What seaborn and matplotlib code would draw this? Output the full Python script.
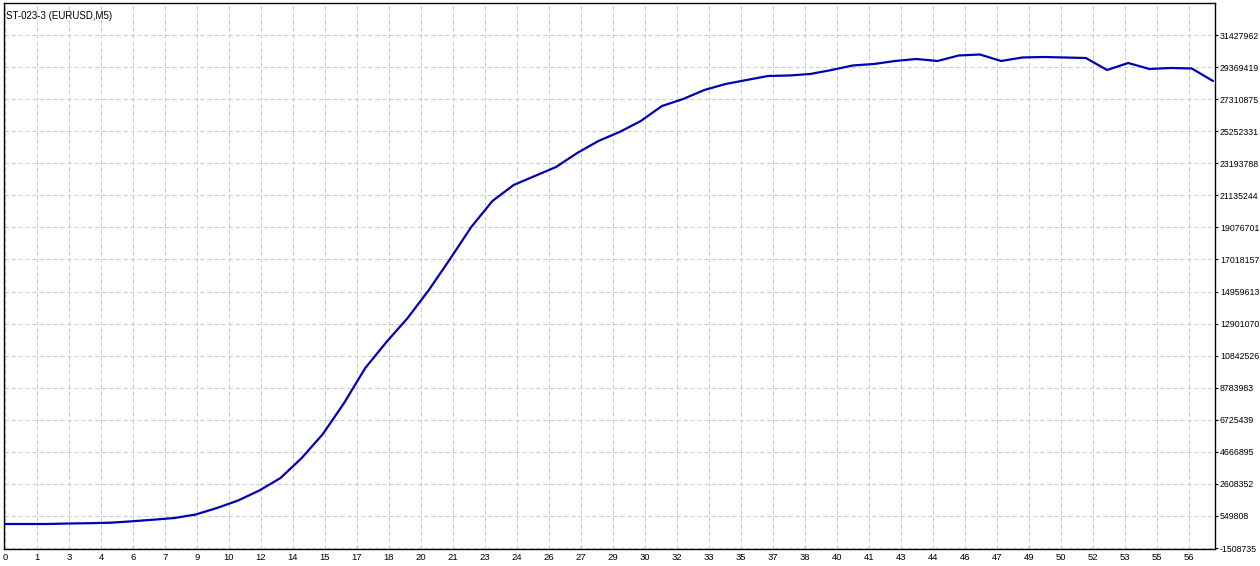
"""Equity curve of the ST-023-3 tester run, redrawn with seaborn."""
import numpy as np
import pandas as pd
import matplotlib
matplotlib.use("Agg")
import matplotlib.pyplot as plt
import seaborn as sns

TITLE = "ST-023-3 (EURUSD,M5)"

# equity after each trade
trade_no = list(range(58))
equity = [
    32305, 32305, 32305, 64000, 84000, 116000, 206000, 309000, 418000, 642000,
    1060000, 1541000, 2183000, 2986000, 4270000, 5811000, 7802000, 10049000,
    11719000, 13260000, 15057000, 17048000, 19103000, 20772000, 21799000,
    22377000, 22955000, 23854000, 24625000, 25203000, 25909000, 26872000,
    27322000, 27900000, 28285000, 28542000, 28798000, 28831000, 28927000,
    29184000, 29473000, 29569000, 29762000, 29890000, 29762000, 30115000,
    30179000, 29762000, 29986000, 30018000, 29986000, 29954000, 29184000,
    29633000, 29248000, 29312000, 29280000, 28477000,
]

x_tick_labels = [0, 1, 3, 4, 6, 7, 9, 10, 12, 14, 15, 17, 18, 20, 21, 23, 24,
                 26, 27, 29, 30, 32, 33, 35, 37, 38, 40, 41, 43, 44, 46, 47,
                 49, 50, 52, 53, 55, 56]
y_ticks = [-1508735, 549808, 2608352, 4666895, 6725439, 8783983, 10842526,
           12901070, 14959613, 17018157, 19076701, 21135244, 23193788,
           25252331, 27310875, 29369419, 31427962]


def main():
    sns.set_style("white")
    plt.rcParams["font.family"] = ["Liberation Sans", "DejaVu Sans"]

    W, H = 1260, 566
    fig = plt.figure(figsize=(W / 100, H / 100), dpi=100)
    # plot box in pixels: left 4, right 1215, top 3, bottom 549
    ax = fig.add_axes([4 / W, 1 - 549 / H, (1215 - 4) / W, (549 - 3) / H])

    df = pd.DataFrame({"trade": trade_no, "equity": equity})
    sns.lineplot(data=df, x="trade", y="equity", ax=ax,
                 color="#0000b4", linewidth=1.6, zorder=3)

    px = 1208 / (len(trade_no) - 1)          # pixels per trade
    ax.set_xlim(-1 / px, (1215 - 5) / px)
    step = (y_ticks[1] - y_ticks[0]) / 32.06  # value per pixel
    ax.set_ylim(y_ticks[0] - step, y_ticks[0] + 545 * step)

    ax.set_xticks(np.arange(len(x_tick_labels)) * 32 / px)
    ax.set_xticklabels([str(v) for v in x_tick_labels])
    ax.set_yticks(y_ticks)
    ax.set_yticklabels([str(v) for v in y_ticks])
    ax.yaxis.tick_right()

    ax.tick_params(axis="x", length=0, pad=3, labelsize=6.8, colors="black")
    ax.tick_params(axis="y", length=2.5, width=0.8, pad=1, labelsize=6.3,
                   colors="black", direction="out", right=True, left=False)

    ax.grid(True, color="#c8c8c8", linewidth=0.72, linestyle=(0, (4, 3)))
    for s in ax.spines.values():
        s.set_visible(True)
        s.set_color("black")
        s.set_linewidth(1.0)

    ax.set_xlabel("")
    ax.set_ylabel("")
    ax.text(0.002, 0.985, TITLE, transform=ax.transAxes, ha="left", va="top",
            fontsize=7, color="black")

    fig.savefig("out.png", dpi=100)


if __name__ == "__main__":
    main()
